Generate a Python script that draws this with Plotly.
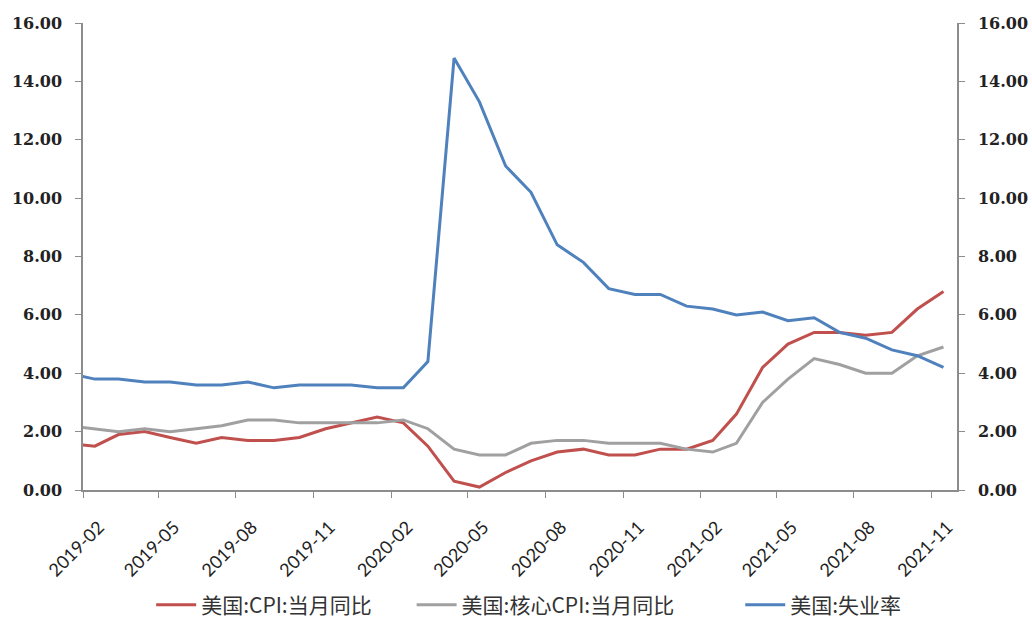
import plotly.graph_objects as go

months = ["2019-01", "2019-02", "2019-03", "2019-04", "2019-05", "2019-06", "2019-07",
          "2019-08", "2019-09", "2019-10", "2019-11", "2019-12",
          "2020-01", "2020-02", "2020-03", "2020-04", "2020-05", "2020-06", "2020-07",
          "2020-08", "2020-09", "2020-10", "2020-11", "2020-12",
          "2021-01", "2021-02", "2021-03", "2021-04", "2021-05", "2021-06", "2021-07",
          "2021-08", "2021-09", "2021-10", "2021-11"]

cpi = [1.6, 1.5, 1.9, 2.0, 1.8, 1.6, 1.8, 1.7, 1.7, 1.8, 2.1, 2.3,
       2.5, 2.3, 1.5, 0.3, 0.1, 0.6, 1.0, 1.3, 1.4, 1.2, 1.2, 1.4,
       1.4, 1.7, 2.6, 4.2, 5.0, 5.4, 5.4, 5.3, 5.4, 6.2, 6.8]

core_cpi = [2.2, 2.1, 2.0, 2.1, 2.0, 2.1, 2.2, 2.4, 2.4, 2.3, 2.3, 2.3,
            2.3, 2.4, 2.1, 1.4, 1.2, 1.2, 1.6, 1.7, 1.7, 1.6, 1.6, 1.6,
            1.4, 1.3, 1.6, 3.0, 3.8, 4.5, 4.3, 4.0, 4.0, 4.6, 4.9]

unemployment = [4.0, 3.8, 3.8, 3.7, 3.7, 3.6, 3.6, 3.7, 3.5, 3.6, 3.6, 3.6,
                3.5, 3.5, 4.4, 14.8, 13.3, 11.1, 10.2, 8.4, 7.8, 6.9, 6.7, 6.7,
                6.3, 6.2, 6.0, 6.1, 5.8, 5.9, 5.4, 5.2, 4.8, 4.6, 4.2]

names = ["美国:CPI:当月同比", "美国:核心CPI:当月同比", "美国:失业率"]
colors = ["#C0504D", "#A0A0A0", "#4F81BD"]

dates = [m + "-15" for m in months]

fig = go.Figure()
fig.add_trace(go.Scatter(x=dates, y=cpi, name=names[0], mode="lines",
                         line=dict(color=colors[0], width=3), legend="legend"))
fig.add_trace(go.Scatter(x=dates, y=core_cpi, name=names[1], mode="lines",
                         line=dict(color=colors[1], width=3), legend="legend2"))
fig.add_trace(go.Scatter(x=dates, y=unemployment, name=names[2], mode="lines",
                         line=dict(color=colors[2], width=3), yaxis="y2", legend="legend3"))

ytick_font = dict(family="DejaVu Serif", size=16, color="#222222", weight="bold")
axis_color = "#8c8c8c"
legend_font = dict(family="Noto Sans CJK SC", size=21, color="#333333")


def leg(xpos):
    return dict(orientation="h", x=xpos, xanchor="left",
                yref="container", y=0.024, yanchor="middle",
                font=legend_font, itemwidth=40, bgcolor="rgba(0,0,0,0)")


fig.update_layout(
    width=1032, height=620,
    margin=dict(l=83, r=75, t=23, b=130, autoexpand=False),
    paper_bgcolor="white", plot_bgcolor="white",
    showlegend=True,
    legend=leg(0.078),
    legend2=leg(0.376),
    legend3=leg(0.752),
    xaxis=dict(
        type="date", range=["2019-02-01", "2021-12-01"],
        tick0="2019-02-01", dtick="M3", tickformat="%Y-%m",
        tickangle=-45, ticks="outside", ticklen=6, tickcolor=axis_color,
        showline=True, linecolor=axis_color, linewidth=1.5,
        showgrid=False, zeroline=False, automargin=False,
        ticklabelstandoff=12, ticklabelshift=16,
        tickfont=dict(family="Lato", size=18, color="#222222"),
    ),
    yaxis=dict(
        range=[0, 16], tick0=0, dtick=2, tickformat=".2f",
        ticks="outside", ticklen=6, tickcolor=axis_color,
        showline=True, linecolor=axis_color, linewidth=1.5,
        showgrid=False, zeroline=False, ticklabelstandoff=10, automargin=False,
        tickfont=ytick_font,
    ),
    yaxis2=dict(
        range=[0, 16], tick0=0, dtick=2, tickformat=".2f",
        overlaying="y", side="right",
        ticks="outside", ticklen=6, tickcolor=axis_color,
        showline=True, linecolor=axis_color, linewidth=1.5,
        showgrid=False, zeroline=False, ticklabelstandoff=10, automargin=False,
        tickfont=ytick_font,
    ),
)

fig.write_html("out.html")
